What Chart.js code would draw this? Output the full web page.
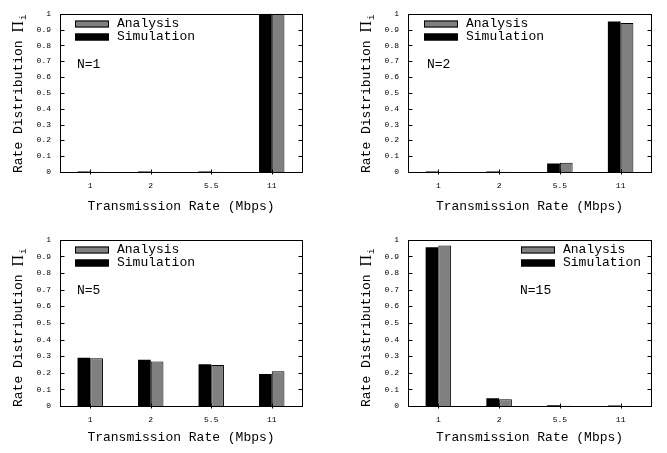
<!DOCTYPE html>
<html>
<head>
<meta charset="utf-8">
<script src="https://cdn.jsdelivr.net/npm/chart.js@4/dist/chart.umd.min.js"></script>
<style>
  html, body { margin: 0; padding: 0; background: #fff; }
  #wrap { position: relative; width: 667px; height: 453px; }
  .cell { position: absolute; }
</style>
</head>
<body>
<div id="wrap">
  <div class="cell" style="left:0;top:0"><canvas id="c1" width="333" height="226"></canvas></div>
  <div class="cell" style="left:333px;top:0"><canvas id="c2" width="334" height="226"></canvas></div>
  <div class="cell" style="left:0;top:226px"><canvas id="c3" width="333" height="227"></canvas></div>
  <div class="cell" style="left:333px;top:226px"><canvas id="c4" width="334" height="227"></canvas></div>
</div>
<script>
// transmission rates (Mbps) on the x axis
let rates = ["1", "2", "5.5", "11"];
let nodeCounts = [1, 2, 5, 15];

// rate distribution, one pair of arrays per panel
let simN1 = [0.003, 0.003, 0.003, 1.0];
let anaN1 = [0.002, 0.002, 0.002, 1.0];
let simN2 = [0.003, 0.003, 0.053, 0.952];
let anaN2 = [0.002, 0.002, 0.058, 0.942];
let simN5 = [0.291, 0.279, 0.251, 0.193];
let anaN5 = [0.287, 0.268, 0.246, 0.209];
let simN15 = [0.955, 0.047, 0.004, 0.003];
let anaN15 = [0.966, 0.040, 0.001, 0.002];

const mono = "'Liberation Mono', 'DejaVu Sans Mono', monospace";

// border box, inside ticks, legend, N label and y title (gnuplot look)
const framePlugin = {
  id: "frame",
  afterDraw(chart, args, o) {
    const { ctx, chartArea: a, scales } = chart;
    const x = scales.x, y = scales.y;
    ctx.save();
    ctx.strokeStyle = "#000";
    ctx.lineWidth = 1;
    const l = Math.round(a.left) + 0.5, r = Math.round(a.right) + 0.5;
    const t = Math.round(a.top) + 0.5, b = Math.round(a.bottom) + 0.5;
    ctx.strokeRect(l, t, r - l, b - t);
    ctx.beginPath();
    y.ticks.forEach((tk) => {
      const py = Math.round(y.getPixelForValue(tk.value)) + 0.5;
      ctx.moveTo(l, py); ctx.lineTo(l + 4, py);
      ctx.moveTo(r - 4, py); ctx.lineTo(r, py);
    });
    x.ticks.forEach((tk, i) => {
      const px = Math.round(x.getPixelForTick(i)) + 0.5;
      ctx.moveTo(px, b - 3); ctx.lineTo(px, b + 2);
    });
    ctx.stroke();

    // legend
    const lx = a.left + o.legendX;
    const rows = [
      { text: "Analysis", fill: "#808080", dy: 10 },
      { text: "Simulation", fill: "#000", dy: 23 },
    ];
    ctx.font = "13px " + mono;
    ctx.textBaseline = "middle";
    ctx.textAlign = "left";
    rows.forEach((row) => {
      const cy = Math.round(a.top + row.dy);
      ctx.fillStyle = row.fill;
      ctx.fillRect(lx, cy - 3.5, 34, 7);
      ctx.strokeRect(lx + 0.5, cy - 3, 33, 6);
      ctx.fillStyle = "#000";
      ctx.fillText(row.text, lx + 42, cy);
    });

    // N label
    ctx.fillText("N=" + o.n, a.left + o.noteX, a.top + 51);

    // y axis title with subscript
    ctx.translate(a.left - 41, a.bottom + 1);
    ctx.rotate(-Math.PI / 2);
    ctx.textBaseline = "middle";
    ctx.font = "13px " + mono;
    const base = "Rate Distribution ";
    ctx.fillText(base, 0, 0);
    let w = ctx.measureText(base).width;
    ctx.font = "16px 'Liberation Serif', serif";
    ctx.fillText("\u03A0", w, 0);
    w += ctx.measureText("\u03A0").width;
    ctx.font = "9px " + mono;
    ctx.fillText("i", w + 1, 5);
    ctx.restore();
  },
};

function makeChart(id, n, sim, ana, pad, axisH, titlePad, legendX, noteX) {
  new Chart(document.getElementById(id), {
    type: "bar",
    data: {
      labels: rates,
      datasets: [
        { label: "Simulation", data: sim, backgroundColor: "#000", borderWidth: 0 },
        { label: "Analysis", data: ana, backgroundColor: "#808080", borderColor: "#000", borderWidth: 1 },
      ],
    },
    options: {
      responsive: false,
      animation: false,
      layout: { padding: pad },
      datasets: { bar: { barPercentage: 1, categoryPercentage: 0.42 } },
      plugins: {
        legend: { display: false },
        tooltip: { enabled: false },
        frame: { n: n, legendX: legendX, noteX: noteX },
      },
      scales: {
        x: {
          grid: { display: false, drawTicks: false },
          border: { display: false },
          ticks: { color: "#000", font: { family: mono, size: 8 }, padding: 9 },
          title: {
            display: true,
            text: "Transmission Rate (Mbps)",
            color: "#000",
            font: { family: mono, size: 13 },
            padding: { top: 0, bottom: titlePad },
          },
          afterFit(s) { s.height = axisH; },
        },
        y: {
          min: 0,
          max: 1,
          grid: { display: false, drawTicks: false },
          border: { display: false },
          ticks: {
            stepSize: 0.1,
            color: "#000",
            font: { family: mono, size: 8 },
            padding: 9,
            callback: (v) => String(Math.round(v * 10) / 10),
          },
          afterFit(s) { s.width = 60; },
        },
      },
    },
    plugins: [framePlugin],
  });
}

makeChart("c1", nodeCounts[0], simN1, anaN1, { left: 0, right: 31, top: 5, bottom: 0 }, 54, 12, 15, 17);
makeChart("c2", nodeCounts[1], simN2, anaN2, { left: 15, right: 16, top: 5, bottom: 0 }, 54, 12, 16, 19);
makeChart("c3", nodeCounts[2], simN5, anaN5, { left: 0, right: 31, top: 13, bottom: 0 }, 47, 8, 15, 17);
makeChart("c4", nodeCounts[3], simN15, anaN15, { left: 15, right: 16, top: 13, bottom: 0 }, 47, 8, 113, 112);
</script>
</body>
</html>
